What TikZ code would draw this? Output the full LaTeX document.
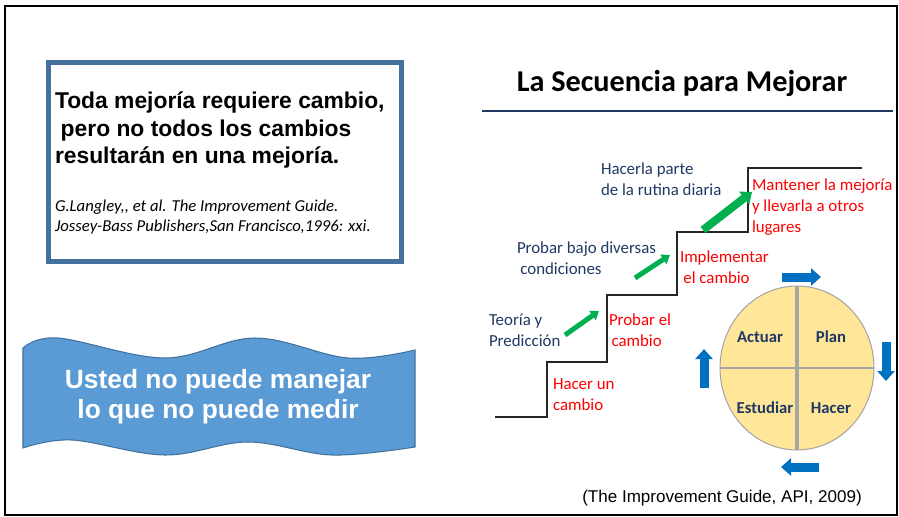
\documentclass[tikz,border=0pt]{standalone}
\usepackage{fontspec}
\setmainfont{Liberation Sans}
\newfontfamily\calibri{Carlito}
\usetikzlibrary{positioning, arrows.meta, shapes.geometric}

\definecolor{navytext}{HTML}{1F3864}
\definecolor{boxblue}{HTML}{44729D}
\definecolor{wavefill}{HTML}{5B9BD5}
\definecolor{waveedge}{HTML}{41719C}
\definecolor{stepgreen}{HTML}{00B050}
\definecolor{cycleblue}{HTML}{0070C0}
\definecolor{cyclefill}{HTML}{FFE699}
\definecolor{cyclegray}{HTML}{A6A6A6}

\begin{document}
\begin{tikzpicture}[
    x=0.02cm, y=-0.02cm,
    every node/.style={inner sep=0pt, outer sep=0pt},
    steptext/.style={anchor=west, align=left, font=\calibri\fontsize{9.6}{11.8}\selectfont},
    todo/.style={steptext, text=navytext},
    hecho/.style={steptext, text=red},
    quadtext/.style={font=\calibri\bfseries\fontsize{9.5}{11}\selectfont, text=navytext},
    stairline/.style={line width=1.1pt, draw=black!85},
    climb/.style={-{Triangle[width=0.22cm, length=0.16cm]}, draw=stepgreen, line width=0.1cm},
    cyclearrow/.style={-{Triangle[width=0.34cm, length=0.2cm]}, draw=cycleblue, line width=0.18cm}
]
\useasboundingbox (0,0) rectangle (899,517);
\draw[line width=1.2pt] (5,6) rectangle (897,515);

% quote box
\node[draw=boxblue, line width=0.1cm, minimum width=7.06cm, minimum height=3.98cm] (quote) at (225,162) {};
\node[anchor=west, align=left, font=\bfseries\fontsize{13}{15.4}\selectfont] (idea) at (55,130)
  {Toda mejoría requiere cambio,\\\hspace{0.25em}pero no todos los cambios\\resultarán en una mejoría.};
\node[anchor=west, align=left, font=\calibri\itshape\fontsize{9.5}{10.9}\selectfont] (source) at (55,217)
  {G.Langley,, et al. The Improvement Guide.\\Jossey-Bass Publishers,San Francisco,1996: xxi.};

% wave banner
\path[fill=wavefill, draw=waveedge, line width=0.6pt]
  plot[smooth, tension=0.6] coordinates {(23,348) (58,338) (165,358) (255,338) (348,358) (415,350)}
  -- plot[smooth, tension=0.6] coordinates {(415,447) (332,455) (248,442) (165,455) (72,440) (23,448)}
  -- cycle;
\node[align=center, text=white, font=\bfseries\fontsize{15}{17}\selectfont] (motto) at (218,397)
  {Usted no puede manejar\\lo que no puede medir};

% title
\node[font=\calibri\bfseries\fontsize{17.2}{20}\selectfont] (title) at (682,83) {La Secuencia para Mejorar};
\coordinate (ruleL) at (482,111);
\coordinate (ruleR) at (893,111);
\draw[navytext, line width=1.5pt] (ruleL) -- (ruleR);

% stairs
\draw[stairline] (495,417) -- (547,417) -- (547,362) -- (607,362) -- (607,295)
  -- (677,295) -- (677,232) -- (748,232) -- (748,168) -- (862,168);

\node[todo] (rutina) at (601,179) {Hacerla parte\\de la rutina diaria};
\node[hecho] (mantener) at (752,207) {Mantener la mejoría\\y llevarla a otros\\lugares};
\node[todo] (probarbajo) at (517,258) {Probar bajo diversas\\\hspace{0.2em}condiciones};
\node[hecho] (implementar) at (680,267) {Implementar\\\hspace{0.2em}el cambio};
\node[todo] (teoria) at (489,330) {Teoría y\\Predicción};
\node[hecho] (probarel) at (609,330) {Probar el\\\hspace{0.15em}cambio};
\node[hecho] (hacerun) at (553,395) {Hacer un\\cambio};

\coordinate (g1a) at (565,335); \coordinate (g1b) at (599,311);
\coordinate (g2a) at (635,278); \coordinate (g2b) at (670,255);
\coordinate (g3a) at (703,230); \coordinate (g3b) at (752,192);
\draw[climb] (g1a) -- (g1b);
\draw[climb] (g2a) -- (g2b);
\draw[climb, line width=0.16cm, -{Triangle[width=0.32cm, length=0.2cm]}] (g3a) -- (g3b);

% PDSA cycle
\node[draw=cyclegray, line width=0.6pt, fill=cyclefill, ellipse,
  minimum width=3.08cm, minimum height=3.28cm] (pdsa) at (797,368) {};
\draw[cyclegray, line width=1.8pt] (pdsa.north) -- (pdsa.south);
\draw[cyclegray, line width=1pt] (pdsa.west) -- (pdsa.east);
\node[quadtext] (actuar) at (760,337) {Actuar};
\node[quadtext] (plan) at (831,337) {Plan};
\node[quadtext] (estudiar) at (765,408) {Estudiar};
\node[quadtext] (hacer) at (831,408) {Hacer};

\coordinate (topA) at (782,277); \coordinate (topB) at (821,277);
\coordinate (rgtA) at (886,342); \coordinate (rgtB) at (886,381);
\coordinate (botA) at (819,467); \coordinate (botB) at (781,467);
\coordinate (lftA) at (704,388); \coordinate (lftB) at (704,349);
\draw[cyclearrow] (topA) -- (topB);
\draw[cyclearrow] (rgtA) -- (rgtB);
\draw[cyclearrow] (botA) -- (botB);
\draw[cyclearrow] (lftA) -- (lftB);

\node[font=\fontsize{9.7}{11}\selectfont] (cita) at (722,498) {(The Improvement Guide, API, 2009)};

\end{tikzpicture}
\end{document}
